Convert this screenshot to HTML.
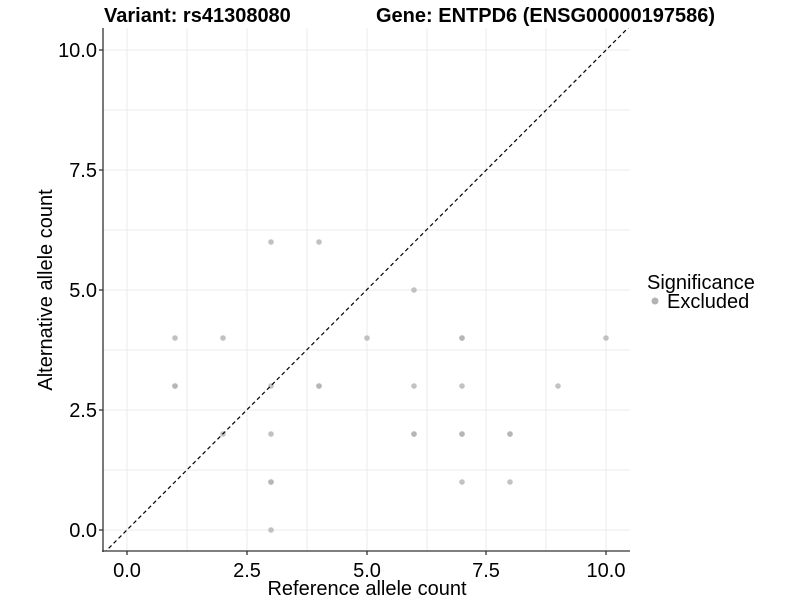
<!DOCTYPE html><html><head><style>body{margin:0;background:#fff}svg{display:block}text{font-family:"Liberation Sans",sans-serif}</style></head><body>
<svg width="800" height="600" xmlns="http://www.w3.org/2000/svg">
<defs><clipPath id="c"><rect x="103" y="28" width="527" height="523"/></clipPath></defs>
<g stroke="#ebebeb" stroke-width="1">
<line x1="127" y1="28" x2="127" y2="551"/><line x1="187" y1="28" x2="187" y2="551"/><line x1="247" y1="28" x2="247" y2="551"/><line x1="307" y1="28" x2="307" y2="551"/><line x1="367" y1="28" x2="367" y2="551"/><line x1="427" y1="28" x2="427" y2="551"/><line x1="486" y1="28" x2="486" y2="551"/><line x1="546" y1="28" x2="546" y2="551"/><line x1="606" y1="28" x2="606" y2="551"/>
<line x1="103" y1="530" x2="630" y2="530"/><line x1="103" y1="470" x2="630" y2="470"/><line x1="103" y1="410" x2="630" y2="410"/><line x1="103" y1="350" x2="630" y2="350"/><line x1="103" y1="290" x2="630" y2="290"/><line x1="103" y1="230" x2="630" y2="230"/><line x1="103" y1="170" x2="630" y2="170"/><line x1="103" y1="110" x2="630" y2="110"/><line x1="103" y1="50" x2="630" y2="50"/>
</g>
<g fill="#b3b3b3" fill-opacity="0.8">
<circle cx="175" cy="338" r="2.8"/><circle cx="223" cy="338" r="2.8"/><circle cx="175" cy="386" r="2.8"/><circle cx="175" cy="386" r="2.8"/>
<circle cx="271" cy="242" r="2.8"/><circle cx="319" cy="242" r="2.8"/><circle cx="414" cy="290" r="2.8"/><circle cx="367" cy="338" r="2.8"/>
<circle cx="462" cy="338" r="2.8"/><circle cx="462" cy="338" r="2.8"/><circle cx="606" cy="338" r="2.8"/><circle cx="319" cy="386" r="2.8"/><circle cx="319" cy="386" r="2.8"/>
<circle cx="271" cy="386" r="2.8"/><circle cx="414" cy="386" r="2.8"/><circle cx="462" cy="386" r="2.8"/><circle cx="558" cy="386" r="2.8"/>
<circle cx="223" cy="434" r="2.8"/><circle cx="271" cy="434" r="2.8"/><circle cx="414" cy="434" r="2.8"/><circle cx="414" cy="434" r="2.8"/><circle cx="462" cy="434" r="2.8"/><circle cx="462" cy="434" r="2.8"/><circle cx="510" cy="434" r="2.8"/><circle cx="510" cy="434" r="2.8"/>
<circle cx="271" cy="482" r="2.8"/><circle cx="271" cy="482" r="2.8"/><circle cx="462" cy="482" r="2.8"/><circle cx="510" cy="482" r="2.8"/><circle cx="271" cy="530" r="2.8"/>
</g>
<line clip-path="url(#c)" x1="79" y1="578" x2="654" y2="2" stroke="#000" stroke-width="1.2" stroke-dasharray="4,3"/>
<g stroke="#333" stroke-width="1.3"><line x1="103" y1="28" x2="103" y2="552"/><line x1="102" y1="551" x2="630" y2="551"/>
<line x1="99" y1="530" x2="103" y2="530"/><line x1="99" y1="410" x2="103" y2="410"/><line x1="99" y1="290" x2="103" y2="290"/><line x1="99" y1="170" x2="103" y2="170"/><line x1="99" y1="50" x2="103" y2="50"/>
<line x1="127" y1="551" x2="127" y2="555"/><line x1="247" y1="551" x2="247" y2="555"/><line x1="367" y1="551" x2="367" y2="555"/><line x1="486" y1="551" x2="486" y2="555"/><line x1="606" y1="551" x2="606" y2="555"/></g>
<g font-size="20" fill="#000" text-anchor="end"><text x="97" y="537">0.0</text><text x="97" y="417">2.5</text><text x="97" y="297">5.0</text><text x="97" y="177">7.5</text><text x="97" y="57">10.0</text></g>
<g font-size="20" fill="#000" text-anchor="middle"><text x="127" y="577">0.0</text><text x="247" y="577">2.5</text><text x="367" y="577">5.0</text><text x="486" y="577">7.5</text><text x="606" y="577">10.0</text>
<text x="367" y="595">Reference allele count</text>
<text transform="translate(52,290) rotate(-90)">Alternative allele count</text></g>
<text x="104" y="22" font-size="20" font-weight="bold">Variant: rs41308080</text>
<text x="376" y="22" font-size="20" font-weight="bold">Gene: ENTPD6 (ENSG00000197586)</text>
<text x="647" y="289" font-size="20">Significance</text>
<circle cx="655" cy="301" r="3.5" fill="#b3b3b3"/>
<text x="667" y="308" font-size="20">Excluded</text>
</svg></body></html>
